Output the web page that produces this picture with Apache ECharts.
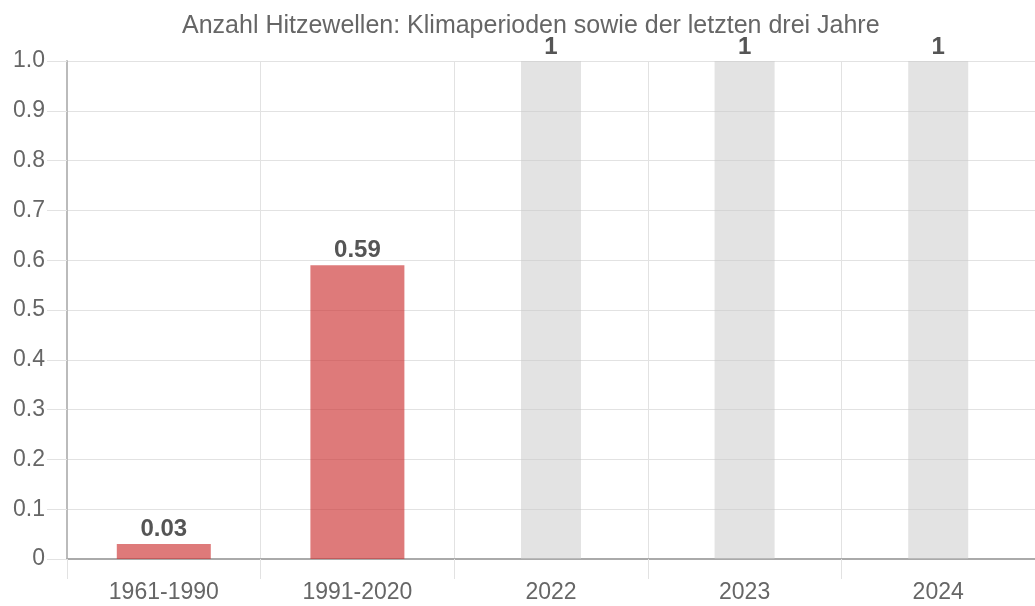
<!DOCTYPE html>
<html>
<head>
<meta charset="utf-8">
<script src="https://cdn.jsdelivr.net/npm/echarts@6/dist/echarts.min.js"></script>
<style>
html,body{margin:0;padding:0;background:#fff;}
#chart{width:1035px;height:606px;}
</style>
</head>
<body>
<div id="chart"></div>
<script>
const titleText = 'Anzahl Hitzewellen: Klimaperioden sowie der letzten drei Jahre';
const categories = ['1961-1990', '1991-2020', '2022', '2023', '2024'];
const periodValues = [0.03, 0.59, null, null, null];
const yearValues = [null, null, 1, 1, 1];
const yTickLabels = ['0', '0.1', '0.2', '0.3', '0.4', '0.5', '0.6', '0.7', '0.8', '0.9', '1.0'];

const chart = echarts.init(document.getElementById('chart'));
const fontFam = 'Liberation Sans, Arial, sans-serif';
const gridColor = '#e2e2e2';

chart.setOption({
  animation: false,
  title: {
    text: titleText,
    left: 177,
    top: 9,
    textStyle: { fontFamily: fontFam, fontSize: 25, fontWeight: 'normal', color: '#666' }
  },
  grid: { left: 67, right: 0, top: 61, bottom: 47, containLabel: false },
  xAxis: [
    {
      type: 'category',
      data: categories,
      boundaryGap: true,
      axisLine: { show: true, lineStyle: { color: '#aaa', width: 2 } },
      axisTick: { show: true, length: 20, interval: 0, lineStyle: { color: gridColor } },
      axisLabel: { interval: 0, margin: 22, fontFamily: fontFam, fontSize: 23, color: '#666' },
      splitLine: { show: true, interval: 0, lineStyle: { color: gridColor } }
    },
    {
      type: 'category',
      data: categories,
      show: false
    }
  ],
  yAxis: {
    type: 'value',
    min: 0,
    max: 1,
    interval: 0.1,
    axisLine: { show: true, lineStyle: { color: '#bbb', width: 2 } },
    axisTick: { show: true, length: 20, lineStyle: { color: gridColor } },
    axisLabel: {
      margin: 22,
      fontFamily: fontFam, fontSize: 23, color: '#666',
      formatter: function (v) { return yTickLabels[Math.round(v * 10)]; }
    },
    splitLine: { show: true, lineStyle: { color: gridColor } }
  },
  series: [
    {
      type: 'bar',
      xAxisIndex: 0,
      data: periodValues,
      barWidth: 94,
      itemStyle: { color: 'rgba(204,51,51,0.65)' },
      label: {
        show: true, position: 'top', distance: 3,
        fontFamily: fontFam, fontSize: 24, fontWeight: 'bold', color: '#555'
      }
    },
    {
      type: 'bar',
      xAxisIndex: 1,
      data: yearValues,
      barWidth: 60,
      itemStyle: { color: 'rgba(200,200,200,0.5)' },
      label: {
        show: true, position: 'top', distance: 2,
        fontFamily: fontFam, fontSize: 24, fontWeight: 'bold', color: '#555'
      }
    }
  ]
});
</script>
</body>
</html>
